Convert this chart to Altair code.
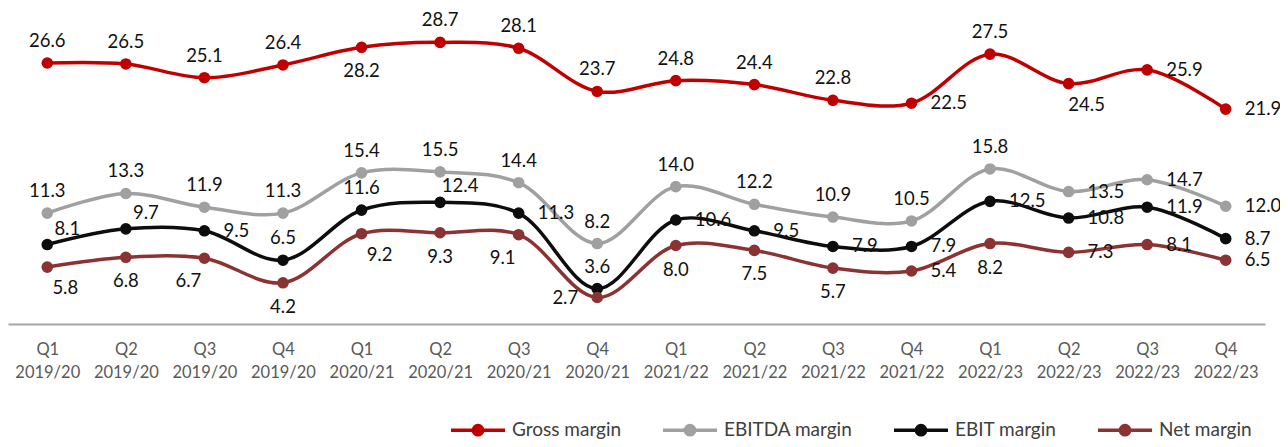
import altair as alt
import pandas as pd

periods = ["Q1 2019/20", "Q2 2019/20", "Q3 2019/20", "Q4 2019/20",
           "Q1 2020/21", "Q2 2020/21", "Q3 2020/21", "Q4 2020/21",
           "Q1 2021/22", "Q2 2021/22", "Q3 2021/22", "Q4 2021/22",
           "Q1 2022/23", "Q2 2022/23", "Q3 2022/23", "Q4 2022/23"]

series_names = ["Gross margin", "EBITDA margin", "EBIT margin", "Net margin"]
series_colors = ["#C00000", "#A0A0A0", "#0D0D0D", "#8B3232"]

gross = [26.6, 26.5, 25.1, 26.4, 28.2, 28.7, 28.1, 23.7, 24.8, 24.4, 22.8, 22.5, 27.5, 24.5, 25.9, 21.9]
ebitda = [11.3, 13.3, 11.9, 11.3, 15.4, 15.5, 14.4, 8.2, 14.0, 12.2, 10.9, 10.5, 15.8, 13.5, 14.7, 12.0]
ebit = [8.1, 9.7, 9.5, 6.5, 11.6, 12.4, 11.3, 3.6, 10.6, 9.5, 7.9, 7.9, 12.5, 10.8, 11.9, 8.7]
net = [5.8, 6.8, 6.7, 4.2, 9.2, 9.3, 9.1, 2.7, 8.0, 7.5, 5.7, 5.4, 8.2, 7.3, 8.1, 6.5]

# label placement codes (t=top, b=bottom, r=right, l=left, tr/br/bl=diagonals)
gross_pos = ["t", "t", "t", "t", "b", "t", "t", "t", "t", "t", "t", "r", "t", "br", "r", "r"]
ebitda_pos = ["t", "t", "t", "t", "t", "t", "t", "t", "t", "t", "t", "t", "t", "r", "r", "r"]
ebit_pos = ["tr", "tr", "r", "t", "t", "tr", "r", "t", "r", "r", "r", "r", "r", "r", "r", "r"]
net_pos = ["br", "b", "bl", "b", "br", "b", "bl", "l", "b", "b", "b", "r", "b", "r", "r", "r"]

POS = {
    "t": dict(align="center", dx=0, dy=-22),
    "b": dict(align="center", dx=0, dy=24),
    "r": dict(align="left", dx=19, dy=0),
    "l": dict(align="right", dx=-19, dy=0),
    "tr": dict(align="center", dx=20, dy=-16),
    "br": dict(align="center", dx=18, dy=21),
    "bl": dict(align="center", dx=-16, dy=23),
}

rows = []
for name, vals, pos in zip(series_names, [gross, ebitda, ebit, net],
                           [gross_pos, ebitda_pos, ebit_pos, net_pos]):
    for i, (p, v, c) in enumerate(zip(periods, vals, pos)):
        rows.append({"period": p, "series": name, "value": v, "pos": c,
                     "order": series_names.index(name)})
df = pd.DataFrame(rows)

FONT = "Lato"

x = alt.X("period:N", sort=periods, title=None,
          axis=alt.Axis(labelExpr="split(datum.value, ' ')", labelAngle=0,
                        labelFontSize=16.5, labelColor="#595959", labelFont=FONT,
                        labelLineHeight=23, labelPadding=17, ticks=False,
                        domainColor="#A6A6A6", domainWidth=2, grid=False,
                        labelBaseline="top"))
y = alt.Y("value:Q", scale=alt.Scale(domain=[0, 32], nice=False, zero=True), axis=None)

legend_shape = ("M-1,0H1M0.17,0A0.17,0.17,0,1,1,-0.17,0"
                "A0.17,0.17,0,1,1,0.17,0Z")

color = alt.Color("series:N",
                  scale=alt.Scale(domain=series_names, range=series_colors),
                  legend=alt.Legend(orient="none", legendX=441, legendY=391,
                                    direction="horizontal", title=None,
                                    symbolType=legend_shape, symbolSize=2916,
                                    symbolStrokeWidth=3.5, labelFontSize=19,
                                    labelFont=FONT, labelColor="#404040",
                                    columnPadding=34, labelOffset=5, padding=0))

base = alt.Chart(df)

lines = base.mark_line(interpolate="catmull-rom", strokeWidth=3.5).encode(
    x=x, y=y, color=color, order=alt.Order("order:Q"))

points = base.mark_point(filled=True, size=135, opacity=1).encode(
    x=x, y=y, color=alt.Color("series:N",
                              scale=alt.Scale(domain=series_names, range=series_colors),
                              legend=None),
    order=alt.Order("order:Q"))

texts = []
for code, opts in POS.items():
    texts.append(
        base.transform_filter(alt.datum.pos == code)
        .mark_text(baseline="middle", fontSize=18.5, font=FONT, color="#111111", **opts)
        .encode(x=x, y=y, text=alt.Text("value:Q", format=".1f"))
    )

chart = alt.layer(lines, points, *texts).properties(
    width=1257, height=314,
    autosize=alt.AutoSizeParams(type="none"),
    padding={"left": 0, "top": 2, "right": 15, "bottom": 115},
).configure_view(stroke=None).configure_scale(pointPadding=0.5)

chart.save("out.html", embed_options={"renderer": "svg", "actions": False})
